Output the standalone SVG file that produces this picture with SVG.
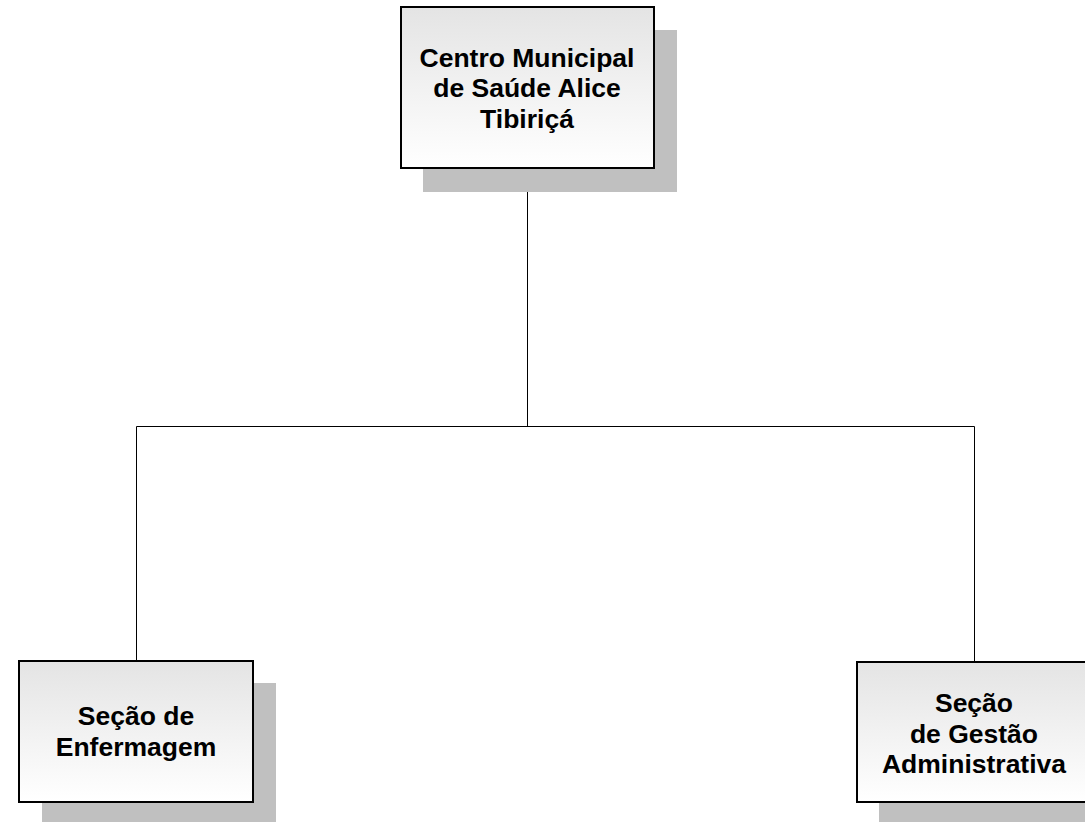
<svg xmlns="http://www.w3.org/2000/svg" width="1085" height="822" viewBox="0 0 1085 822">
<defs>
<linearGradient id="g" x1="0" y1="0" x2="0" y2="1">
<stop offset="0" stop-color="#e4e4e4"/>
<stop offset="1" stop-color="#ffffff"/>
</linearGradient>
</defs>
<style>
.sh{fill:#c0c0c0}
.bx{fill:url(#g);stroke:#000;stroke-width:2}
.t{font-family:"Liberation Sans",Arial,sans-serif;font-weight:bold;font-size:26.5px;fill:#000;text-anchor:middle}
.c{stroke:#000;stroke-width:1;fill:none}
</style>
<rect width="1085" height="822" fill="#fff"/>
<g id="connectors">
<path class="c" d="M527.5 168V426.5M136.5 426.5H974.5M136.5 426.5V661M974.5 426.5V662"/>
</g>
<g id="node-centro">
<rect class="sh" x="423" y="30" width="254" height="162"/>
<rect class="bx" x="401" y="7" width="253" height="161"/>
<text class="t" x="527" y="66.5">Centro Municipal</text>
<text class="t" x="527" y="97">de Saúde Alice</text>
<text class="t" x="527" y="128">Tibiriçá</text>
</g>
<g id="node-enfermagem">
<rect class="sh" x="42" y="683" width="234" height="150"/>
<rect class="bx" x="19" y="661" width="234" height="141"/>
<text class="t" x="136" y="725">Seção de</text>
<text class="t" x="136" y="755.5">Enfermagem</text>
</g>
<g id="node-gestao">
<rect class="sh" x="879" y="684" width="234" height="150"/>
<rect class="bx" x="857" y="662" width="234" height="140"/>
<text class="t" x="974" y="712">Seção</text>
<text class="t" x="974" y="742.5">de Gestão</text>
<text class="t" x="974" y="773">Administrativa</text>
</g>
</svg>
